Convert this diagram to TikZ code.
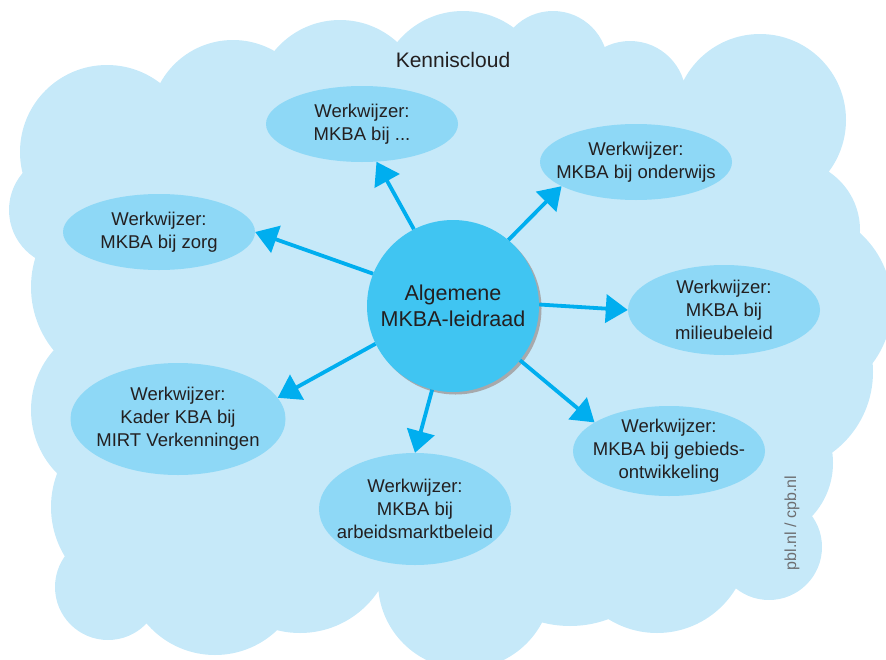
\documentclass[tikz,border=0pt]{standalone}
\usepackage{fontspec}
\setmainfont{Liberation Sans}
\usetikzlibrary{shapes.geometric,arrows.meta}
\definecolor{cloudcol}{HTML}{C6E9F9}
\definecolor{ellcol}{HTML}{8ED8F6}
\definecolor{centcol}{HTML}{40C5F2}
\definecolor{arrcol}{HTML}{00AEEF}
\definecolor{txtcol}{HTML}{231F20}
\definecolor{shadcol}{HTML}{A7A9AC}
\definecolor{credcol}{HTML}{6D6E71}
\tikzset{
  cloudfill/.style={fill=cloudcol},
  ell/.style={ellipse, fill=ellcol, inner sep=0pt},
  txt/.style={font=\fontsize{18.5}{23}\selectfont, text=txtcol, align=center, inner sep=0pt},
  arr/.style={draw=arrcol, line width=3.8pt, -{Triangle[length=22pt,width=28pt]}},
}
\begin{document}
\begin{tikzpicture}[x=1pt,y=-1pt]
\useasboundingbox (0,0) rectangle (886,659);
\begin{scope}
\clip (0,0) rectangle (886,659);
\fill[cloudfill]
  (107,152) circle[radius=87pt]
  (66,210) circle[radius=57pt]
  (131,287) circle[radius=100pt]
  (121,410) circle[radius=90pt]
  (146,507) circle[radius=95pt]
  (108,587) circle[radius=53pt]
  (215,565) circle[radius=90pt]
  (300,539) circle[radius=94pt]
  (465,582) circle[radius=87pt]
  (570,516) circle[radius=110pt]
  (657,541) circle[radius=92pt]
  (769,547) circle[radius=53pt]
  (755,463) circle[radius=78pt]
  (773,372) circle[radius=100pt]
  (795,305) circle[radius=97pt]
  (790,230) circle[radius=70pt]
  (760,120) circle[radius=86pt]
  (630,97) circle[radius=56pt]
  (553,66) circle[radius=55pt]
  (463,96) circle[radius=85pt]
  (340,105) circle[radius=85pt]
  (233,123) circle[radius=83pt];
\fill[cloudfill] (107,152) -- (233,123) -- (340,105) -- (463,96) -- (553,66) -- (630,97)
  -- (760,120) -- (790,230) -- (795,305) -- (773,372) -- (755,463) -- (769,547)
  -- (657,541) -- (570,516) -- (465,582) -- (300,539) -- (215,565) -- (108,587)
  -- (146,507) -- (121,410) -- (131,287) -- (66,210) -- cycle;
\end{scope}

\node[font=\fontsize{21}{25}\selectfont, text=txtcol, anchor=base, inner sep=0pt] (title) at (453,67) {Kenniscloud};

\node[ell, minimum width=192pt, minimum height=76pt] (e1) at (362,124) {};
\node[ell, minimum width=192pt, minimum height=76pt] (e2) at (159,232) {};
\node[ell, minimum width=192pt, minimum height=76pt] (e3) at (636,162) {};
\node[ell, minimum width=192pt, minimum height=90pt] (e4) at (724,310) {};
\node[ell, minimum width=192pt, minimum height=90pt] (e5) at (669,451) {};
\node[ell, minimum width=192pt, minimum height=112pt] (e6) at (415,509) {};
\node[ell, minimum width=215pt, minimum height=112pt] (e7) at (178,419) {};

\node[txt] (t1) at (e1) {Werkwijzer:\\MKBA bij ...};
\node[txt] (t2) at (e2) {Werkwijzer:\\MKBA bij zorg};
\node[txt] (t3) at (e3) {Werkwijzer:\\MKBA bij onderwijs};
\node[txt] (t4) at (e4) {Werkwijzer:\\MKBA bij\\milieubeleid};
\node[txt] (t5) at (e5) {Werkwijzer:\\MKBA bij gebieds-\\ontwikkeling};
\node[txt] (t6) at (e6) {Werkwijzer:\\MKBA bij\\arbeidsmarktbeleid};
\node[txt] (t7) at (e7) {Werkwijzer:\\Kader KBA bij\\MIRT Verkenningen};

\node[circle, fill=shadcol, minimum size=172pt, inner sep=0pt] (cs) at (455.5,308.5) {};
\node[circle, fill=centcol, minimum size=172pt, inner sep=0pt, font=\fontsize{21.5}{26}\selectfont, text=txtcol, align=center] (c) at (453,306) {Algemene\\MKBA-leidraad};

\draw[arr] (c.117) -- (e1.-69);
\draw[arr] (c.158) -- (e2.0);
\draw[arr] (c.50) -- (e3.198);
\draw[arr] (c.1) -- (e4.180);
\draw[arr] (c.-39) -- (e5.159);
\draw[arr] (c.256) -- (e6.90);
\draw[arr] (c.206) -- (e7.12);

\node[font=\fontsize{16}{19}\selectfont, text=credcol, rotate=90, inner sep=0pt] (cred) at (792,523) {pbl.nl / cpb.nl};
\end{tikzpicture}
\end{document}
